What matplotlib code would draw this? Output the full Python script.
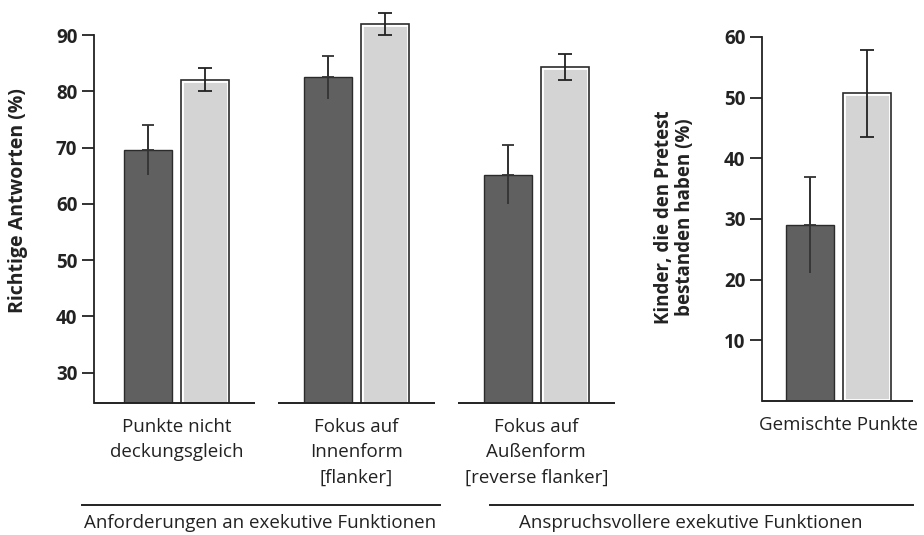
import numpy as np
import matplotlib
matplotlib.use('Agg')
import matplotlib.pyplot as plt

plt.rcParams['font.family'] = ['Open Sans', 'DejaVu Sans']

# left panel: correct answers (%)
cats_left = ['Punkte nicht\ndeckungsgleich', 'Fokus auf\nInnenform\n[flanker]',
             'Fokus auf\nAußenform\n[reverse flanker]']
dark_left = [69.6, 82.5, 65.2]
dark_left_err = [4.4, 3.8, 5.2]
light_left = [82.1, 92.0, 84.3]
light_left_err = [2.1, 2.0, 2.3]

# right panel: children passing the pretest (%)
cats_right = ['Gemischte Punkte']
dark_right = [29.0]
dark_right_err = [7.9]
light_right = [50.7]
light_right_err = [7.2]

left_ticks = [30, 40, 50, 60, 70, 80, 90]
right_ticks = [10, 20, 30, 40, 50, 60]
group_titles = ['Anforderungen an exekutive Funktionen', 'Anspruchsvollere exekutive Funktionen']

DARK = '#606060'
LIGHT = '#d4d4d4'
EDGE = '#2b2b2b'
TXT = '#222222'
W = 0.267
OFF = 0.158


def draw_bars(ax, dark, dark_err, light, light_err):
    x = np.arange(len(dark))
    ax.bar(x - OFF, dark, W, color=DARK, edgecolor=EDGE, linewidth=1.0, zorder=2)
    # light bars: thick white edge under a thin dark outline -> double border
    ax.bar(x + OFF, light, W, color=LIGHT, edgecolor='white', linewidth=3.5, zorder=2)
    ax.bar(x + OFF, light, W, facecolor='none', edgecolor=EDGE, linewidth=1.2, zorder=2.5)
    # dark bars: line through the whole range, cap only on top
    ax.errorbar(x - OFF, dark, yerr=dark_err, fmt='none', ecolor='#333333',
                elinewidth=1.3, capsize=0, zorder=3)
    ax.errorbar(x - OFF, dark, yerr=[np.zeros(len(dark)), dark_err], fmt='none',
                ecolor='#333333', elinewidth=1.3, capsize=4.5, capthick=1.3, zorder=3)
    ax.errorbar(x + OFF, light, yerr=light_err, fmt='none', ecolor='#222222',
                elinewidth=1.3, capsize=5, capthick=1.3, zorder=3)
    return x


def style_axis(ax, ticks):
    for s in ['top', 'right', 'bottom']:
        ax.spines[s].set_visible(False)
    ax.spines['left'].set_linewidth(1.3)
    ax.spines['left'].set_color(TXT)
    ax.spines['left'].set_bounds(ax.get_ylim()[0], ticks[-1])
    ax.set_yticks(ticks)
    ax.tick_params(axis='y', direction='out', length=9, width=1.3, pad=3,
                   labelsize=13.5, colors=TXT)
    ax.tick_params(axis='x', length=0, pad=11, labelsize=13.5, colors=TXT)
    for lab in ax.get_yticklabels():
        lab.set_fontweight('bold')


fig = plt.figure(figsize=(9.24, 5.35), dpi=100)

ax1 = fig.add_axes([0.1017, 0.2467, 0.5606, 0.7507])
x1 = draw_bars(ax1, dark_left, dark_left_err, light_left, light_left_err)
ax1.set_xlim(-0.458, 2.42)
ax1.set_ylim(24.6, 96)
style_axis(ax1, left_ticks)
ax1.set_xticks(x1)
ax1.set_xticklabels(cats_left, linespacing=1.5, va='top')
# separate baseline under each group
for i in x1:
    lo = -0.458 if i == 0 else i - 0.435
    ax1.hlines(24.6, lo, i + 0.435, color=TXT, lw=1.4, clip_on=False, zorder=4)
ax1.set_ylabel('Richtige Antworten (%)', fontsize=14, fontweight='bold', color=TXT)
ax1.yaxis.set_label_coords(-0.127, 0.505)

ax2 = fig.add_axes([0.8247, 0.2505, 0.1634, 0.6804])
x2 = draw_bars(ax2, dark_right, dark_right_err, light_right, light_right_err)
ax2.set_xlim(-0.425, 0.414)
ax2.set_ylim(0, 60)
style_axis(ax2, right_ticks)
ax2.set_xticks(x2)
ax2.set_xticklabels(cats_right, va='top')
ax2.hlines(0, -0.425, 0.414, color=TXT, lw=1.4, clip_on=False, zorder=4)
ax2.set_ylabel('Kinder, die den Pretest\nbestanden haben (%)', fontsize=13.5,
               fontweight='bold', color=TXT, linespacing=1.05)
ax2.yaxis.set_label_coords(-0.445, 0.505)

# group brackets below the categories
fig.add_artist(plt.Line2D([0.0887, 0.476], [0.056, 0.056], color=TXT, lw=1.4))
fig.add_artist(plt.Line2D([0.530, 0.988], [0.056, 0.056], color=TXT, lw=1.4))
fig.text(0.2814, 0.0224, group_titles[0], ha='center', va='center', fontsize=13.5, color=TXT)
fig.text(0.748, 0.0224, group_titles[1], ha='center', va='center', fontsize=13.5, color=TXT)

fig.savefig('out.png', dpi=100, facecolor='white')
